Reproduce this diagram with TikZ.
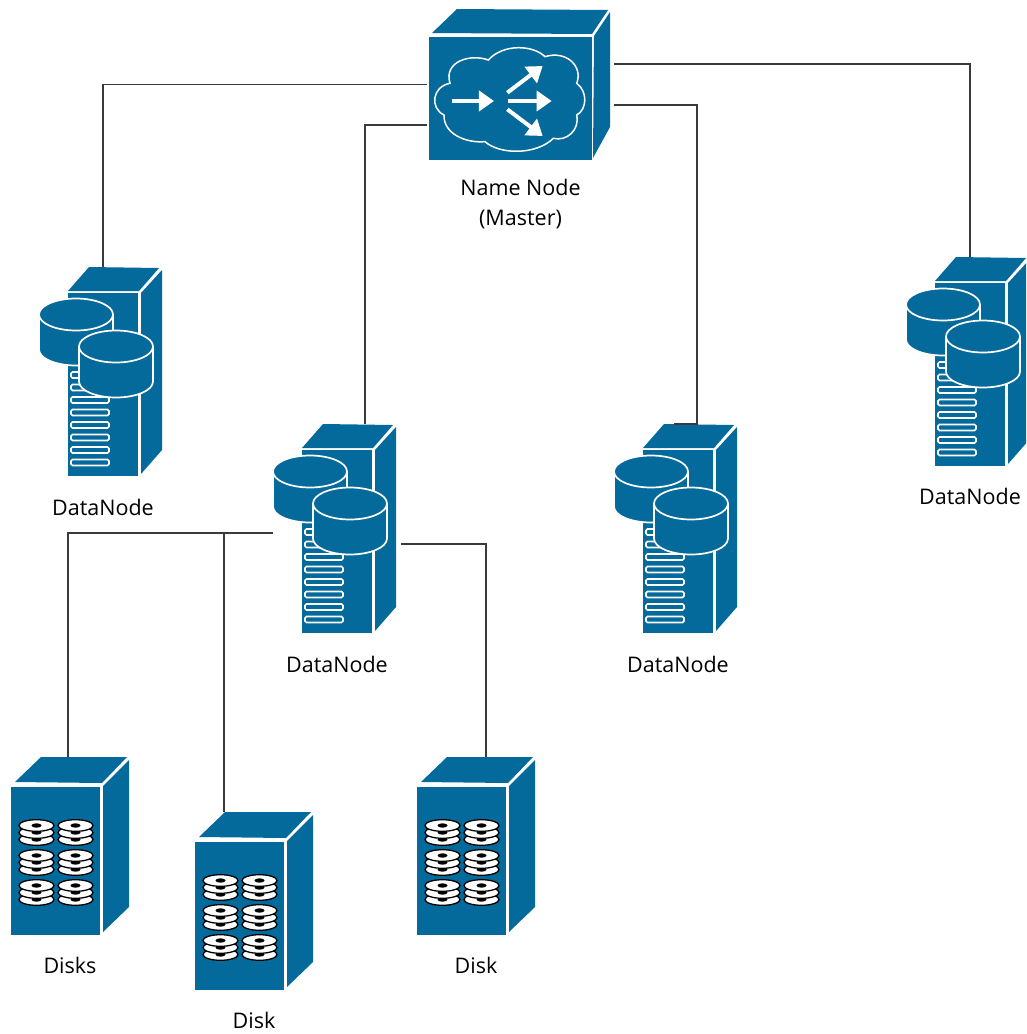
\documentclass[tikz,border=0pt]{standalone}
\usepackage{fontspec}
\setmainfont{Open Sans}
\usetikzlibrary{arrows.meta,positioning}
\definecolor{devblue}{HTML}{04699B}
\definecolor{linkgray}{HTML}{3A3A3A}
\tikzset{
    devbox/.style={inner sep=0pt,outer sep=0pt},
    nnbox/.style={devbox,minimum width=187pt,minimum height=151pt},
    dnbox/.style={devbox,minimum width=128pt,minimum height=209pt},
    dkbox/.style={devbox,minimum width=118pt,minimum height=178pt},
    devlabel/.style={font=\fontsize{21.5}{30}\selectfont,align=center,inner sep=0pt},
    link/.style={draw=linkgray,line width=1.3pt},
    face/.style={fill=devblue},
    whiteline/.style={draw=white,line width=1.7pt},
    fwd/.style={draw=white,line width=4pt,-{Triangle[length=15pt,width=20pt]}},
    drum/.pic={
        \path[face,whiteline] (-37,0) -- (-37,35)
            arc[start angle=180,end angle=360,x radius=37pt,y radius=16pt]
            -- (37,0)
            arc[start angle=0,end angle=180,x radius=37pt,y radius=16pt] -- cycle;
        \draw[whiteline] (-37,0)
            arc[start angle=180,end angle=360,x radius=37pt,y radius=16pt];
    },
    platter/.pic={
        \foreach \d in {14,7,0} {
            \draw[fill=white,draw=black,line width=1.3pt] (0,\d) ellipse[x radius=17.5pt,y radius=5.8pt];
            \fill[black] (0,\d) ellipse[x radius=5pt,y radius=2.2pt];
        }
    },
    nnicon/.pic={
        \fill[face] (-91.5,-47.5) rectangle (71.5,75.5);
        \fill[face] (-88.5,-51.5) -- (-63.5,-75.5) -- (87.5,-74.5) -- (71.5,-50.5) -- cycle;
        \fill[face] (73.5,-48.5) -- (89.5,-72.5) -- (89.5,42.5) -- (72.5,73.5) -- cycle;
        \begin{scope}[shift={(-100.5,-84.5)},x=.3333pt,y=-.3333pt]
            \draw[draw=white,line width=1.5pt] (72,345)
                .. controls (30,325) and (35,260) .. (90,250)
                .. controls (70,185) and (150,160) .. (205,180)
                .. controls (250,130) and (340,135) .. (375,170)
                .. controls (440,150) and (490,200) .. (470,250)
                .. controls (505,275) and (500,330) .. (470,345)
                .. controls (480,390) and (440,425) .. (400,415)
                .. controls (350,465) and (240,465) .. (195,425)
                .. controls (135,430) and (70,400) .. (72,345) -- cycle;
            \draw[fwd] (95,303) -- (222,303);
            \draw[fwd] (265,303) -- (395,303);
            \draw[fwd] (262,278) -- (368,198);
            \draw[fwd] (262,328) -- (368,408);
        \end{scope}
    },
    dnicon/.pic={
        \fill[face] (-35,-78.5) rectangle (35,104.5);
        \fill[face] (-35,-80.5) -- (-14,-104.5) -- (56,-103.5) -- (36,-80.5) -- cycle;
        \fill[face] (38,-78.5) -- (59,-101.5) -- (59,78.5) -- (38,102.5) -- cycle;
        \foreach \i in {0,...,7}
            \draw[whiteline,rounded corners=1.5pt] (-32,3.5+12.5*\i-3) rectangle (6,3.5+12.5*\i+3);
        \pic at (-27,-57) {drum};
        \pic at (13,-25) {drum};
    },
    dkicon/.pic={
        \fill[face] (-59,-59) rectangle (30,89);
        \fill[face] (-55,-64) -- (-29,-89) -- (57,-89) -- (32,-63) -- cycle;
        \fill[face] (33,-60) -- (59,-86) -- (59,61) -- (33,86) -- cycle;
        \foreach \c in {-33.5,5.5}
            \foreach \r in {-20.5,9.5,39.5}
                \pic at (\c,\r) {platter};
    },
}
\begin{document}
\begin{tikzpicture}[x=1pt,y=-1pt,on grid]
            \useasboundingbox (0,0) rectangle (1026,1034);
            \clip (0,0) rectangle (1026,1034);
            \node[nnbox] (nn) at (520.5,84.5) {};
            \node[dnbox, below left=444pt and 183.5pt of nn] (dnB) {};
            \node[dnbox, above left=157pt and 234pt of dnB] (dnA) {};
            \node[dnbox, right=341pt of dnB] (dnC) {};
            \node[dnbox, above right=167pt and 633pt of dnB] (dnD) {};
            \node[dkbox, below left=317.5pt and 267pt of dnB] (dkA) {};
            \node[dkbox, below right=55pt and 184pt of dkA] (dkB) {};
            \node[dkbox, right=406pt of dkA] (dkC) {};
            \pic at (nn) {nnicon};
            \foreach \n in {dnA,dnB,dnC,dnD}
                \pic at (\n) {dnicon};
            \foreach \n in {dkA,dkB,dkC}
                \pic at (\n) {dkicon};
            \node[devlabel, below=120pt of nn] (nnlabel) {Name Node\\(Master)};
            \node[devlabel, below=135.5pt of dnA] (dnAlabel) {DataNode};
            \node[devlabel, below=135.5pt of dnB] (dnBlabel) {DataNode};
            \node[devlabel, below=135.5pt of dnC] (dnClabel) {DataNode};
            \node[devlabel, below=134.5pt of dnD] (dnDlabel) {DataNode};
            \node[devlabel, below=119pt of dkA] (dkAlabel) {Disks};
            \node[devlabel, below=119pt of dkB] (dkBlabel) {Disk};
            \node[devlabel, below=119pt of dkC] (dkClabel) {Disk};
            \draw[link] (nn.west) -| (dnA.north);
            \draw[link] ([yshift=-40.5pt]nn.west) -| ([xshift=28pt]dnB.north);
            \draw[link] ([yshift=-20.5pt]nn.east) -| ([xshift=19pt]dnC.north) -- ++(-23,0);
            \draw[link] ([yshift=20.5pt]nn.east) -| (dnD.north);
            \draw[link] ([yshift=-4.5pt]dnB.west) -| ([xshift=-2pt]dkA.north);
            \draw[link] ([yshift=-4.5pt]dnB.west) -| ([xshift=-30pt]dkB.north);
            \draw[link] ([yshift=-15.5pt]dnB.east) -| ([xshift=10pt]dkC.north);
        \end{tikzpicture}
\end{document}
